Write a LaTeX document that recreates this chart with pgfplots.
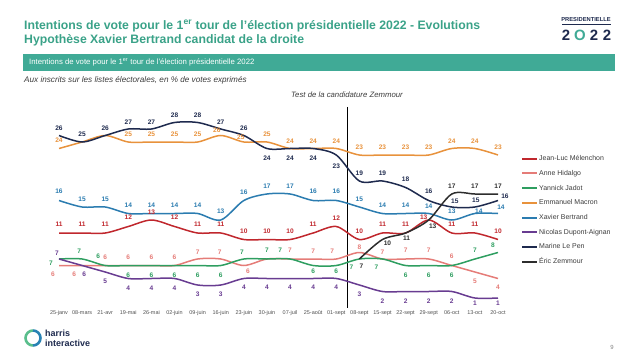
\documentclass[border=0pt]{standalone}
\usepackage{fontspec}
\setmainfont{Liberation Sans}
\usepackage{pgfplots}
\pgfplotsset{compat=1.18}
\usepackage{pgfplotstable}
\definecolor{teal1}{RGB}{64,170,150}
\definecolor{titlecol}{RGB}{58,162,136}
\definecolor{navy}{RGB}{30,42,78}
\definecolor{melenchon}{RGB}{192,39,45}
\definecolor{hidalgo}{RGB}{229,124,120}
\definecolor{jadot}{RGB}{46,158,96}
\definecolor{macron}{RGB}{232,146,60}
\definecolor{bertrand}{RGB}{43,124,176}
\definecolor{nda}{RGB}{104,60,145}
\definecolor{lepen}{RGB}{30,42,78}
\definecolor{zemmour}{RGB}{45,45,45}
\definecolor{tickgray}{RGB}{80,80,80}
\definecolor{txtgray}{RGB}{60,60,60}
\newcommand{\lab}{\fontsize{6.6}{7}\selectfont\bfseries}

\pgfplotstableread{
x y dx dy l
0 26 0 7 26
1 25 0 8 25
2 26 0 7 26
3 27 0 7 27
4 27 0 7 27
5 28 0 7.5 28
6 28 0 7.5 28
7 27 0 7 27
8 26 0 7 26
9 24 0 -10 24
10 24 0 -10 24
11 24 0 -10 24
12 23 0 -11 23
13 19 0 8 19
14 19 0 8 19
15 18 0 8 18
16 16 0 9 16
17 15 3 6 15
18 15 1 7 15
19 16 7 4.5 16
}\tlepen
\pgfplotstableread{
x y dx dy l
0 24 0 8 24
1 25 0 0 {}
2 26 0 0 {}
3 25 0 8 25
4 25 0 8 25
5 25 0 8 25
6 25 0 8 25
7 26 -4 5 26
8 25 -3 5 25
9 25 0 8 25
10 24 0 7 24
11 24 0 7 24
12 24 0 7 24
13 23 0 8 23
14 23 0 8 23
15 23 0 8 23
16 23 0 8 23
17 24 0 7 24
18 24 0 7 24
19 23 0 8 23
}\tmacron
\pgfplotstableread{
x y dx dy l
0 16 0 9 16
1 15 0 8 15
2 15 0 8 15
3 14 0 8 14
4 14 0 8.5 14
5 14 0 8 14
6 14 0 8 14
7 13 0 9 13
8 16 0 8 16
9 17 0 8 17
10 17 0 8 17
11 16 0 9 16
12 16 0 9 16
13 15 0 8 15
14 14 0 8 14
15 14 0 8 14
16 14 0 7 14
17 13 0 9 13
18 14 4 2 14
19 14 3 6 14
}\tbertrand
\pgfplotstableread{
x y dx dy l
0 11 0 9 11
1 11 0 9 11
2 11 0 9 11
3 12 0 9 12
4 13 0 8 13
5 12 0 9 12
6 11 0 9 11
7 11 0 9 11
8 10 0 8.5 10
9 10 0 8.5 10
10 10 0 8.5 10
11 11 0 9 11
12 12 0 8 12
13 10 0 8.5 10
14 11 0 9 11
15 11 0 9 11
16 13 -5 3 13
17 11 0 9 11
18 11 0 9 11
19 10 0 8.5 10
}\tmelenchon
\pgfplotstableread{
x y dx dy l
13 7 2 -7 7
14 10 5 -4 10
15 11 1 -5 11
16 13 4 -6 13
17 17 0 8 17
18 17 0 8 17
19 17 0 8 17
}\tzemmour
\pgfplotstableread{
x y dx dy l
0 6 -6 -8.5 6
1 6 -8 -8.5 6
2 6 0 8 6
3 6 0 8 6
4 6 0 8 6
5 6 0 8 6
6 7 0 7 7
7 7 -1 7 7
8 6 4 -6 6
9 7 0 0 {}
10 7 0 9 7
11 7 0 8 7
12 7 -4 8 7
13 8 0 5 8
14 7 0 7 7
15 7 0 9 7
16 7 0 9 7
17 6 0 9 6
18 5 0 -9 5
19 4 0 -9 4
}\thidalgo
\pgfplotstableread{
x y dx dy l
0 7 -8 -4 7
1 7 -3 8 7
2 6 -7 9 6
3 6 0 -9.5 6
4 6 0 -9.5 6
5 6 0 -9.5 6
6 6 0 -9.5 6
7 6 0 -9.5 6
8 7 -2 7 7
9 7 0 9 7
10 7 -10 9 7
11 6 0 -6 6
12 6 0 -6 6
13 7 -8 -8 7
14 7 -6 -8 7
15 6 0 -9.5 6
16 6 0 -9.5 6
17 6 0 -9.5 6
18 7 0 9 7
19 8 -5 7.5 8
}\tjadot
\pgfplotstableread{
x y dx dy l
0 7 -2 6 7
1 6 2 -8.5 6
2 5 0 -9 5
3 4 0 -10 4
4 4 0 -10 4
5 4 0 -10 4
6 3 0 -9.5 3
7 3 0 -9.5 3
8 4 0 -9 4
9 4 0 -9 4
10 4 0 -9 4
11 4 0 -9 4
12 4 0 -9 4
13 3 0 -9.5 3
14 2 0 -9.5 2
15 2 0 -9.5 2
16 2 0 -9.5 2
17 2 0 -9.5 2
18 1 0 -5 1
19 1 0 -5 1
}\tnda

\pgfplotsset{ser/.style={color=#1, line width=1.5bp, smooth, tension=0.5, mark=none,
  nodes near coords, point meta=explicit symbolic,
  visualization depends on={\thisrow{dx}\as\dx},
  visualization depends on={\thisrow{dy}\as\dy},
  every node near coord/.append style={anchor=center, xshift=\dx*1pt, yshift=\dy*1pt, font=\lab, text=#1, inner sep=0pt},
  forget plot}}

\begin{document}
\begin{tikzpicture}
\useasboundingbox (0,0) rectangle (638bp,-359bp);
\begin{scope}[x=1bp,y=-1bp]
\node[anchor=west, text=titlecol, font=\fontsize{12.3}{14}\selectfont\bfseries, inner sep=0] at (24,26) {Intentions de vote pour le 1\textsuperscript{er} tour de l'élection présidentielle 2022 - Evolutions};
\node[anchor=west, text=titlecol, font=\fontsize{12.3}{14}\selectfont\bfseries, inner sep=0] at (24,40) {Hypothèse Xavier Bertrand candidat de la droite};
\fill[teal1] (23,54) rectangle (615,70.5);
\node[anchor=west, text=white, font=\fontsize{7.8}{8}\selectfont, inner sep=0] at (29,62.5) {Intentions de vote pour le 1\textsuperscript{er} tour de l'élection présidentielle 2022};
\node[anchor=west, font=\fontsize{8.2}{9}\selectfont\itshape, text=txtgray, inner sep=0] at (24,80) {Aux inscrits sur les listes électorales, en \% de votes exprimés};
\node[font=\fontsize{7.8}{8}\selectfont\itshape, text=txtgray, inner sep=0] at (347,95) {Test de la candidature Zemmour};
% logo
\node[font=\fontsize{5.8}{6}\selectfont\bfseries, text=navy, inner sep=0] at (586,20) {PRESIDENTIELLE};
\draw[navy, line width=0.5bp] (562,24) -- (611,24);
\node[font=\fontsize{15}{15}\selectfont\bfseries, text=navy, inner sep=0] at (566,35) {2};
\node[font=\fontsize{15}{15}\selectfont\bfseries, text=teal1, inner sep=0] at (580,35) {O};
\node[font=\fontsize{15}{15}\selectfont\bfseries, text=navy, inner sep=0] at (594,35) {2};
\node[font=\fontsize{15}{15}\selectfont\bfseries, text=navy, inner sep=0] at (607,35) {2};
% harris
\draw[line width=2.6bp, color={rgb,255:red,90;green,190;blue,140}] (33,330.5) arc (270:90:7.5);
\draw[line width=2.6bp, color={rgb,255:red,40;green,130;blue,180}] (33,330.5) arc (270:450:7.5);
\node[anchor=west, font=\fontsize{9}{9}\selectfont\bfseries, text=navy, inner sep=0] at (45,333) {harris};
\node[anchor=west, font=\fontsize{9}{9}\selectfont\bfseries, text=navy, inner sep=0] at (45,343) {interactive};
\node[font=\fontsize{6}{6}\selectfont, text=gray, inner sep=0] at (612,347) {9};
\end{scope}

\begin{axis}[
  at={(59bp,-304.5bp)}, anchor=south west,
  scale only axis, width=439bp, height=195bp,
  xmin=0, xmax=19, ymin=0, ymax=30,
  clip=false,
  axis line style={draw=none},
  major tick length=0pt,
  ytick=\empty,
  xtick={0,...,19},
  xticklabels={25-janv,08-mars,21-avr,19-mai,26-mai,02-juin,09-juin,16-juin,23-juin,30-juin,07-juil,25-août,01-sept,08-sept,15-sept,22-sept,29-sept,06-oct,13-oct,20-oct},
  xticklabel style={font=\fontsize{5.5}{6}\selectfont, text=tickgray, anchor=north, inner sep=0pt, yshift=-6bp},
  legend style={at={(1.0456,0.782)}, anchor=north west, draw=none, fill=none,
    font=\fontsize{7}{8}\selectfont, text=txtgray, row sep=5.7bp,
    nodes={inner sep=1bp, text height=5.5bp, text depth=1.5bp}},
  legend cell align=left,
  legend image code/.code={\draw[#1, line width=2bp] (0bp,0bp) -- (15bp,0bp);},
]
\draw[black, line width=0.7bp] (axis cs:12.5,30.4) -- (axis cs:12.5,-0.55);
\addplot[ser=hidalgo] table[x=x,y=y,meta=l] {\thidalgo};
\addplot[ser=jadot] table[x=x,y=y,meta=l] {\tjadot};
\addplot[ser=nda] table[x=x,y=y,meta=l] {\tnda};
\addplot[ser=melenchon] table[x=x,y=y,meta=l] {\tmelenchon};
\addplot[ser=bertrand] table[x=x,y=y,meta=l] {\tbertrand};
\addplot[ser=macron] table[x=x,y=y,meta=l] {\tmacron};
\addplot[ser=lepen] table[x=x,y=y,meta=l] {\tlepen};
\addplot[ser=zemmour] table[x=x,y=y,meta=l] {\tzemmour};
\addlegendimage{melenchon}\addlegendentry{Jean-Luc Mélenchon}
\addlegendimage{hidalgo}\addlegendentry{Anne Hidalgo}
\addlegendimage{jadot}\addlegendentry{Yannick Jadot}
\addlegendimage{macron}\addlegendentry{Emmanuel Macron}
\addlegendimage{bertrand}\addlegendentry{Xavier Bertrand}
\addlegendimage{nda}\addlegendentry{Nicolas Dupont-Aignan}
\addlegendimage{lepen}\addlegendentry{Marine Le Pen}
\addlegendimage{zemmour}\addlegendentry{Éric Zemmour}
\end{axis}
\end{tikzpicture}
\end{document}
